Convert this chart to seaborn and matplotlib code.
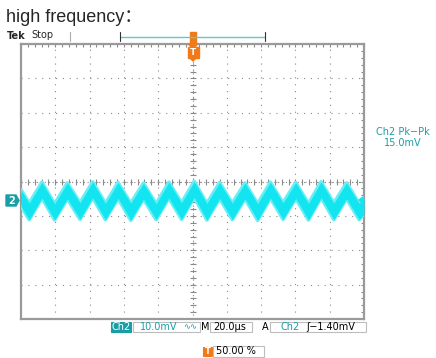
import numpy as np
import pandas as pd
import seaborn as sns
import matplotlib.pyplot as plt
from matplotlib.patches import Rectangle, Polygon
from matplotlib.ticker import MultipleLocator

# waveform band: vertex times (us) and band edges (mV)
vertex_us = [-100.0, -95.2, -87.8, -80.4, -73.0, -65.6, -58.2, -50.8, -43.4, -36.0,
             -28.6, -21.2, -13.8, -6.4, 1.0, 8.4, 15.8, 23.2, 30.6, 38.0,
             45.4, 52.8, 60.2, 67.6, 75.0, 82.4, 89.8, 97.2, 100.0]
upper_mv = [3.0, -0.9, 5.2, -1.1, 5.0, -0.8, 5.3, -1.0, 5.1, -0.9,
            4.9, -1.1, 5.2, -0.8, 5.4, -1.0, 5.1, -0.9, 5.0, -1.1,
            5.2, -0.8, 5.1, -1.0, 5.3, -0.9, 5.0, -1.0, 0.7]
lower_mv = [-1.8, -5.7, 0.6, -5.8, 0.4, -5.6, 0.7, -5.7, 0.5, -5.9,
            0.3, -5.7, 0.6, -5.6, 0.8, -5.8, 0.5, -5.7, 0.4, -5.9,
            0.6, -5.6, 0.5, -5.8, 0.7, -5.7, 0.4, -5.7, -4.0]

# scope settings shown on screen
us_per_div = 20.0
mv_per_div = 10.0
gnd_offset_mv = 5.4   # ch2 ground marker sits 0.54 div below centre
status_items = ['Ch2', '10.0mV', 'M', '20.0µs', 'A', 'Ch2', '\u0283\u22121.40mV']
pkpk_label = ['Ch2 Pk\u2212Pk', '15.0mV']
trig_pos = '50.00 %'

df = pd.DataFrame({'t': vertex_us, 'upper': upper_mv, 'lower': lower_mv})

sns.set_style('white')
plt.rcParams['font.family'] = ['DejaVu Sans', 'Noto Sans CJK SC']

W, H = 436, 358
fig = plt.figure(figsize=(W / 100, H / 100), dpi=100)
fx = lambda x: x / W
fy = lambda y: 1 - y / H

ax = fig.add_axes([fx(21), fy(319), 343 / W, 275 / H])
ax.set_xlim(-5 * us_per_div, 5 * us_per_div)
ax.set_ylim(gnd_offset_mv - 4 * mv_per_div, gnd_offset_mv + 4 * mv_per_div)

grey = '#8a8a8a'
cyan = '#12e4f0'
cyan_fuzz = '#6aeef6'
teal = '#1a9ea6'
orange = '#f07a18'

# graticule
ax.xaxis.set_major_locator(MultipleLocator(us_per_div))
ax.xaxis.set_minor_locator(MultipleLocator(us_per_div / 5))
ax.yaxis.set_major_locator(MultipleLocator(mv_per_div, offset=gnd_offset_mv))
ax.yaxis.set_minor_locator(MultipleLocator(mv_per_div / 5, offset=gnd_offset_mv))
ax.tick_params(which='both', direction='in', length=2.5, width=0.8, color=grey,
               top=True, right=True, labelbottom=False, labelleft=False)
ax.grid(True, which='major', color=grey, linewidth=0.8, linestyle=(0, (1, 5.2)))
for s in ax.spines.values():
    s.set_color('#9a9a9a')
    s.set_linewidth(1.6)

# centre cross with small ticks
ax.axhline(gnd_offset_mv, color=grey, linewidth=0.8, linestyle=(0, (1, 2.5)))
ax.axvline(0, color=grey, linewidth=0.8, linestyle=(0, (1, 2.5)))
xt = np.arange(-5 * us_per_div, 5 * us_per_div + 0.1, us_per_div / 5)
yt = np.arange(gnd_offset_mv - 4 * mv_per_div, gnd_offset_mv + 4 * mv_per_div + 0.1, mv_per_div / 5)
ax.plot(xt, np.full_like(xt, gnd_offset_mv), ls='none', marker='|', ms=4, mew=0.8, color=grey)
ax.plot(np.zeros_like(yt), yt, ls='none', marker='_', ms=4, mew=0.8, color=grey)

# signal band (noisy edges drawn as a lighter fringe)
sns.lineplot(data=df, x='t', y='upper', ax=ax, color=cyan_fuzz, linewidth=2.6, zorder=3)
sns.lineplot(data=df, x='t', y='lower', ax=ax, color=cyan_fuzz, linewidth=2.6, zorder=3)
ax.fill_between(df['t'], df['lower'], df['upper'], color=cyan, linewidth=0, zorder=4)
ax.set_xlabel('')
ax.set_ylabel('')

# title and header
fig.text(fx(6), fy(17), 'high frequency：', fontsize=13, va='center',
         family=['Liberation Sans', 'Noto Sans CJK SC'])
fig.text(fx(7), fy(36), 'Tek', fontsize=7, fontweight='bold', va='center')
fig.text(fx(31), fy(35.5), 'Stop', fontsize=7, va='center')

# record bar
fig.add_artist(plt.Line2D([fx(120), fx(265)], [fy(36.5), fy(36.5)], color='#5fc8c8', lw=1))
for xb in (120, 265):
    fig.add_artist(plt.Line2D([fx(xb), fx(xb)], [fy(32), fy(41)], color='#333333', lw=0.8))
fig.add_artist(plt.Line2D([fx(70), fx(70)], [fy(32), fy(41)], color='#aaaaaa', lw=0.8))

# trigger markers
fig.add_artist(Rectangle((fx(190), fy(43)), 6 / W, 11 / H, color=orange, transform=fig.transFigure))
fig.add_artist(Polygon([(fx(188.5), fy(44)), (fx(197.5), fy(44)), (fx(193), fy(49))],
                       closed=True, color=orange, transform=fig.transFigure))
fig.add_artist(Rectangle((fx(187.5), fy(58)), 11 / W, 11 / H, color=orange, transform=fig.transFigure))
fig.text(fx(193), fy(52.5), 'T', fontsize=6.5, color='white', fontweight='bold', ha='center', va='center')
fig.add_artist(Polygon([(fx(190), fy(58)), (fx(196), fy(58)), (fx(193), fy(61))],
                       closed=True, color=orange, transform=fig.transFigure))

# channel markers
fig.add_artist(Polygon([(fx(6), fy(195)), (fx(16), fy(195)), (fx(19), fy(200.5)), (fx(16), fy(206)), (fx(6), fy(206))],
                       closed=True, color=teal, transform=fig.transFigure))
fig.text(fx(11.5), fy(200.5), '2', fontsize=7, color='white', fontweight='bold', ha='center', va='center')
fig.add_artist(Polygon([(fx(359), fy(200)), (fx(363), fy(197)), (fx(363), fy(203))],
                       closed=True, color=cyan, transform=fig.transFigure))

# pk-pk readout
fig.text(fx(403), fy(132), pkpk_label[0], fontsize=7, color=teal, ha='center', va='center')
fig.text(fx(403), fy(143), pkpk_label[1], fontsize=7, color=teal, ha='center', va='center')

# status line
def box(x0, x1, y0, y1, fc='white', ec='#bdbdbd'):
    fig.add_artist(Rectangle((fx(x0), fy(y1)), (x1 - x0) / W, (y1 - y0) / H, facecolor=fc,
                             edgecolor=ec, lw=0.8, transform=fig.transFigure))

box(110.5, 131, 321.5, 331.5, fc=teal, ec=teal)
fig.text(fx(120.7), fy(326.5), status_items[0], fontsize=7, color='white', ha='center', va='center')
box(133, 200, 321.5, 331.5)
fig.text(fx(140), fy(326.5), status_items[1], fontsize=7, color=teal, va='center')
fig.text(fx(183), fy(326.5), '\u223f\u223f', fontsize=6, color=teal, va='center')
fig.text(fx(201), fy(326.5), status_items[2], fontsize=7, color='black', va='center')
box(210, 252, 321.5, 331.5)
fig.text(fx(213), fy(326.5), status_items[3], fontsize=7, color='black', va='center')
fig.text(fx(262), fy(326.5), status_items[4], fontsize=7, color='black', va='center')
box(270, 366, 321.5, 331.5)
fig.text(fx(280), fy(326.5), status_items[5], fontsize=7, color=teal, va='center')
fig.text(fx(306), fy(326.5), status_items[6], fontsize=7, color='black', va='center')

box(203, 212, 347, 356, fc=orange, ec=orange)
fig.text(fx(207.5), fy(351.5), 'T', fontsize=6, color='white', fontweight='bold', ha='center', va='center')
box(213, 264, 346, 357)
fig.text(fx(216), fy(351.5), trig_pos, fontsize=7, color='black', va='center')

fig.savefig('out.png', dpi=100)
